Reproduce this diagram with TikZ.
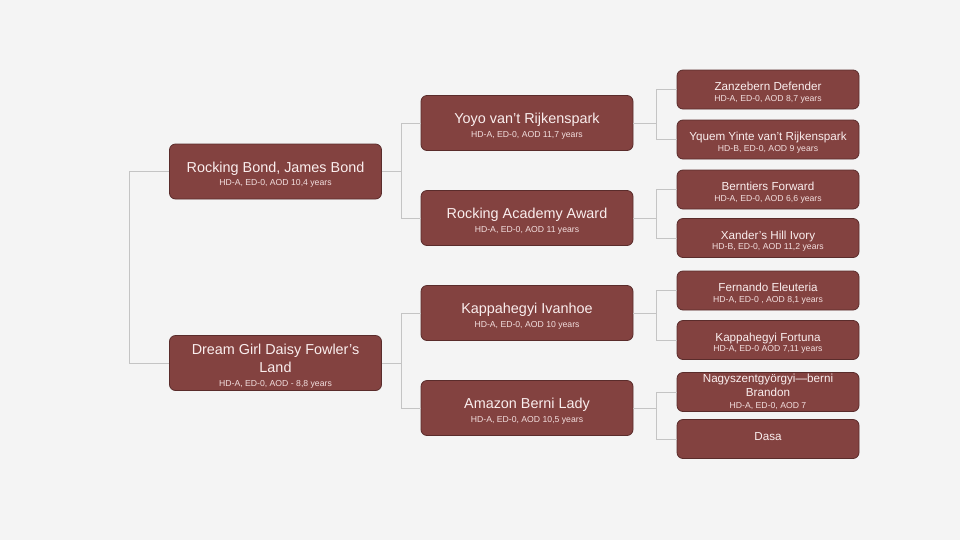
\documentclass[tikz,border=0pt]{standalone}
\usepackage{fontspec}
\setmainfont{Liberation Sans}
\definecolor{bgc}{HTML}{F4F4F4}
\definecolor{boxfill}{HTML}{834240}
\definecolor{boxline}{HTML}{5A2C2B}
\definecolor{boxtext}{HTML}{FAEEEE}
\definecolor{subtext}{HTML}{F2DEDE}
\definecolor{linegray}{HTML}{C4C4C4}
\newcommand\bigfs{\fontsize{10.8}{13.5}\selectfont}
\newcommand\smallfs{\fontsize{8.75}{10.5}\selectfont}
\newcommand\detfs{\fontsize{6.5}{8}\selectfont\color{subtext}}
\newcommand\topbig{\rule{0pt}{12.8pt}}
\newcommand\topsmall{\rule{0pt}{10.9pt}}
\begin{document}
\begin{tikzpicture}[x=0.75pt,y=-0.75pt,
  box/.style={draw=boxline, line width=0.6pt, fill=boxfill, rounded corners=4.5pt,
    inner sep=0pt, align=center, text=boxtext},
  bigbox/.style={box, minimum width=159pt, minimum height=41.25pt, font=\bigfs},
  smallbox/.style={box, minimum width=136.5pt, minimum height=29.25pt, font=\smallfs},
  conn/.style={draw=linegray, line width=0.75pt}]
\fill[bgc] (0,0) rectangle (960,540);
% level 1
\node[bigbox] (rb) at (275.5,171.5) {\topbig Rocking Bond, James Bond\\[-3.5pt]{\detfs HD-A, ED-0, AOD 10,4 years}};
\node[bigbox] (dg) at (275.5,363) {\topbig Dream Girl Daisy Fowler’s\\Land\\[-3.5pt]{\detfs HD-A, ED-0, AOD - 8,8 years}};
% level 2
\node[bigbox] (yo) at (527,123) {\topbig Yoyo van’t Rijkenspark\\[-3.5pt]{\detfs HD-A, ED-0, AOD 11,7 years}};
\node[bigbox] (ra) at (527,218) {\topbig Rocking Academy Award\\[-3.5pt]{\detfs HD-A, ED-0, AOD 11 years}};
\node[bigbox] (ki) at (527,313) {\topbig Kappahegyi Ivanhoe\\[-3.5pt]{\detfs HD-A, ED-0, AOD 10 years}};
\node[bigbox] (ab) at (527,408) {\topbig Amazon Berni Lady\\[-3.5pt]{\detfs HD-A, ED-0, AOD 10,5 years}};
% level 3
\node[smallbox] (zd) at (768,89.5) {\topsmall Zanzebern Defender\\[-2.5pt]{\detfs HD-A, ED-0, AOD 8,7 years}};
\node[smallbox] (yy) at (768,139.5) {\topsmall Yquem Yinte van’t Rijkenspark\\[-2.5pt]{\detfs HD-B, ED-0, AOD 9 years}};
\node[smallbox] (bf) at (768,189.5) {\topsmall Berntiers Forward\\[-2.5pt]{\detfs HD-A, ED-0, AOD 6,6 years}};
\node[smallbox] (xh) at (768,238) {\topsmall Xander’s Hill Ivory\\[-2.5pt]{\detfs HD-B, ED-0, AOD 11,2 years}};
\node[smallbox] (fe) at (768,290.5) {\topsmall Fernando Eleuteria\\[-2.5pt]{\detfs HD-A, ED-0 , AOD 8,1 years}};
\node[smallbox] (kf) at (768,340) {\topsmall Kappahegyi Fortuna\\[-2.5pt]{\detfs HD-A, ED-0 AOD 7,11 years}};
\node[smallbox] (nb) at (768,392) {Nagyszentgyörgyi—berni\\Brandon\\[-1.5pt]{\detfs HD-A, ED-0, AOD 7}};
\node[smallbox] (da) at (768,439) {\raisebox{4.5pt}{Dasa}};
% connectors
\draw[conn] (rb.west) -- ++(-40,0) coordinate (j0) |- (dg.west);
\draw[conn] (rb.east) -- ++(20,0) coordinate (j1);
\draw[conn] (j1) |- (yo.west);
\draw[conn] (j1) |- (ra.west);
\draw[conn] (dg.east) -- ++(20,0) coordinate (j2);
\draw[conn] (j2) |- (ki.west);
\draw[conn] (j2) |- (ab.west);
\draw[conn] (yo.east) -- ++(23,0) coordinate (k1);
\draw[conn] (k1) |- (zd.west);
\draw[conn] (k1) |- (yy.west);
\draw[conn] (ra.east) -- ++(23,0) coordinate (k2);
\draw[conn] (k2) |- (bf.west);
\draw[conn] (k2) |- (xh.west);
\draw[conn] (ki.east) -- ++(23,0) coordinate (k3);
\draw[conn] (k3) |- (fe.west);
\draw[conn] (k3) |- (kf.west);
\draw[conn] (ab.east) -- ++(23,0) coordinate (k4);
\draw[conn] (k4) |- (nb.west);
\draw[conn] (k4) |- (da.west);
\end{tikzpicture}
\end{document}
